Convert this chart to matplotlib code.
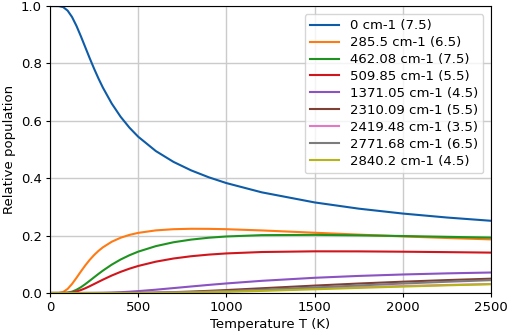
import matplotlib
matplotlib.use("Agg")
import matplotlib.pyplot as plt

temps = [0, 25, 50, 75, 100, 125, 150, 175, 200, 225, 250, 275, 300, 350,
         400, 450, 500, 600, 700, 800, 900, 1000, 1200, 1500, 1750, 2000,
         2250, 2500]

labels = [
    "0 cm-1 (7.5)",
    "285.5 cm-1 (6.5)",
    "462.08 cm-1 (7.5)",
    "509.85 cm-1 (5.5)",
    "1371.05 cm-1 (4.5)",
    "2310.09 cm-1 (5.5)",
    "2419.48 cm-1 (3.5)",
    "2771.68 cm-1 (6.5)",
    "2840.2 cm-1 (4.5)",
]

colors = ["#0e5ca8", "#ff7a12", "#1f931f", "#d0161c", "#8a52c2",
          "#7e3f35", "#e477c6", "#7c7c7c", "#b5b418"]

pop_0 = [1.0, 1.0, 0.9998, 0.9962, 0.9841, 0.9618, 0.9310, 0.8949, 0.8566,
         0.8184, 0.7817, 0.7473, 0.7156, 0.6602, 0.6144, 0.5764, 0.5446,
         0.4946, 0.4569, 0.4273, 0.4032, 0.3830, 0.3508, 0.3156, 0.2939,
         0.2768, 0.2630, 0.2516]
pop_285 = [0.0, 0.0, 0.0002, 0.0037, 0.0142, 0.0315, 0.0527, 0.0749, 0.0961,
           0.1154, 0.1323, 0.1468, 0.1592, 0.1786, 0.1925, 0.2024, 0.2095,
           0.2182, 0.2223, 0.2238, 0.2235, 0.2223, 0.2180, 0.2100, 0.2034,
           0.1972, 0.1917, 0.1868]
pop_462 = [0.0, 0.0, 0.0, 0.0001, 0.0013, 0.0047, 0.0111, 0.0200, 0.0308,
           0.0426, 0.0547, 0.0666, 0.0780, 0.0988, 0.1166, 0.1315, 0.1441,
           0.1633, 0.1768, 0.1861, 0.1926, 0.1970, 0.2016, 0.2026, 0.2010,
           0.1985, 0.1957, 0.1929]
pop_509 = [0.0, 0.0, 0.0, 0.0, 0.0005, 0.0020, 0.0053, 0.0102, 0.0164,
           0.0236, 0.0312, 0.0389, 0.0465, 0.0609, 0.0736, 0.0847, 0.0942,
           0.1092, 0.1202, 0.1281, 0.1338, 0.1379, 0.1428, 0.1452, 0.1450,
           0.1439, 0.1424, 0.1407]
pop_1371 = [0.0, 0.0, 0.0, 0.0, 0.0, 0.0, 0.0, 0.0, 0.0, 0.0001, 0.0002,
            0.0004, 0.0006, 0.0015, 0.0028, 0.0045, 0.0066, 0.0115, 0.0171,
            0.0227, 0.0282, 0.0333, 0.0424, 0.0530, 0.0595, 0.0645, 0.0684,
            0.0714]
pop_2310 = [0.0, 0.0, 0.0, 0.0, 0.0, 0.0, 0.0, 0.0, 0.0, 0.0, 0.0, 0.0, 0.0,
            0.0, 0.0001, 0.0003, 0.0005, 0.0015, 0.0030, 0.0050, 0.0075,
            0.0103, 0.0165, 0.0258, 0.0330, 0.0394, 0.0450, 0.0499]
pop_2419 = [0.0, 0.0, 0.0, 0.0, 0.0, 0.0, 0.0, 0.0, 0.0, 0.0, 0.0, 0.0, 0.0,
            0.0, 0.0001, 0.0001, 0.0003, 0.0008, 0.0016, 0.0028, 0.0042,
            0.0059, 0.0096, 0.0155, 0.0201, 0.0243, 0.0280, 0.0313]
pop_2771 = [0.0, 0.0, 0.0, 0.0, 0.0, 0.0, 0.0, 0.0, 0.0, 0.0, 0.0, 0.0, 0.0,
            0.0, 0.0, 0.0001, 0.0002, 0.0006, 0.0013, 0.0026, 0.0042, 0.0062,
            0.0111, 0.0194, 0.0263, 0.0330, 0.0391, 0.0447]
pop_2840 = [0.0, 0.0, 0.0, 0.0, 0.0, 0.0, 0.0, 0.0, 0.0, 0.0, 0.0, 0.0, 0.0,
            0.0, 0.0, 0.0, 0.0001, 0.0003, 0.0008, 0.0016, 0.0027, 0.0040,
            0.0073, 0.0129, 0.0178, 0.0224, 0.0267, 0.0307]

series = [pop_0, pop_285, pop_462, pop_509, pop_1371,
          pop_2310, pop_2419, pop_2771, pop_2840]


def main() -> None:
    plt.rcParams["font.size"] = 9.5
    fig = plt.figure(figsize=(5.1, 3.36), dpi=100)
    ax = fig.add_axes([0.098, 0.128, 0.865, 0.854])

    for values, label, color in zip(series, labels, colors):
        ax.plot(temps, values, label=label, color=color, linewidth=1.5)

    ax.set_xlim(0, 2500)
    ax.set_ylim(0, 1.0)
    ax.set_xticks([0, 500, 1000, 1500, 2000, 2500])
    ax.set_yticks([0.0, 0.2, 0.4, 0.6, 0.8, 1.0])
    ax.tick_params(length=3.0, pad=3.0)
    ax.grid(True, color="#cbcbcb", linewidth=1.0)
    ax.set_xlabel("Temperature T (K)", labelpad=3)
    ax.set_ylabel("Relative population", labelpad=3)
    ax.legend(loc="upper right", labelspacing=0.3, handlelength=2.2,
              borderaxespad=0.6)

    fig.savefig("out.png", dpi=100)
    plt.close(fig)


if __name__ == "__main__":
    main()
